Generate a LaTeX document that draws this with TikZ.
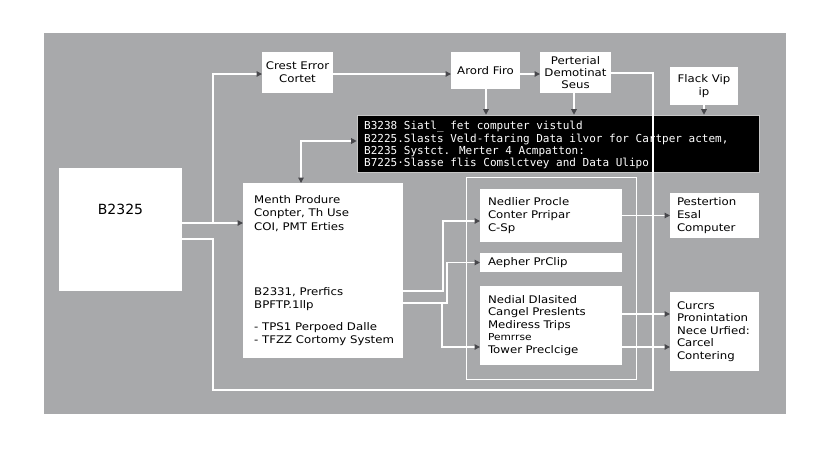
\documentclass[tikz,border=0pt]{standalone}
\usepackage{fontspec}
\setmainfont{DejaVu Sans}[FakeStretch=1.12]
\newfontfamily\plainfont{DejaVu Sans}
\newfontfamily\blackfont{DejaVu Sans Mono}
\usetikzlibrary{arrows.meta}
\definecolor{bggray}{RGB}{168,169,171}
\definecolor{tipgray}{RGB}{72,72,76}
\begin{document}
\begin{tikzpicture}[x=1pt,y=-1pt,
  wbox/.style={fill=white, inner sep=0pt, outer sep=0pt},
  cbox/.style={wbox, align=center, font=\fontsize{10.5}{13}\selectfont},
  lbox/.style={wbox, align=left, inner xsep=8pt, font=\fontsize{10.5}{12.7}\selectfont},
  txt/.style={inner sep=0pt, align=left, font=\fontsize{10.5}{13.5}\selectfont},
  conn/.style={draw=white, line width=1.2pt},
  tip/.tip={Triangle[length=5.5pt, width=5.5pt, color=tipgray]},
]
\useasboundingbox (0,0) rectangle (832,448);
\fill[white] (0,0) rectangle (832,448);
\fill[bggray] (44,33) rectangle (786,414);

% boxes
\node[wbox, minimum width=123pt, minimum height=123pt] (b2325) at (120.5,229.5) {};
\node[inner sep=0pt, font=\plainfont\fontsize{14}{16}\selectfont] (b2325t) at (120.5,209) {B2325};

\node[cbox, minimum width=71pt, minimum height=41pt] (crest) at (297.5,72.5) {Crest Error\\Cortet};
\node[cbox, minimum width=69pt, minimum height=37pt] (arord) at (485.5,70.5) {Arord Firo};
\node[cbox, minimum width=71pt, minimum height=41pt, font=\fontsize{10.5}{12.3}\selectfont] (perterial) at (575.5,72.5) {Perterial\\Demotinat\\Seus};
\node[cbox, minimum width=68pt, minimum height=38pt, font=\fontsize{10.5}{12.3}\selectfont] (flack) at (704,86) {Flack Vip\\ip};

\node[fill=black, draw=gray!45, line width=0.6pt, inner sep=0pt, minimum width=402pt, minimum height=57pt] (black) at (558,143.5) {};
\node[txt, anchor=north west, text=white, font=\blackfont\fontsize{11}{12.4}\selectfont] (blackt) at (364,121) {B3238 Siatl\_ fet computer vistuld\\B2225.Slasts Veld-ftaring Data ilvor for Cartper actem,\\B2235 Systct. Merter 4 Acmpatton:\\B7225·Slasse flis Comslctvey and Data Ulipo};

\node[wbox, minimum width=160pt, minimum height=175pt] (month) at (323,270.5) {};
\node[txt, anchor=north west] (montht) at (254,195) {Menth Produre\\Conpter, Th Use\\COI, PMT Erties};
\node[txt, anchor=north west] (monthb) at (254,287) {B2331, Prerfics\\BPFTP.1llp\\[8pt]- TPS1 Perpoed Dalle\\- TFZZ Cortomy System};

\node[draw=white, line width=1pt, inner sep=0pt, minimum width=170pt, minimum height=202pt] (frame) at (551,278) {};
\node[lbox, text width=126pt, minimum height=53pt] (nedlier) at (551,215.5) {Nedlier Procle\\Conter Prripar\\C-Sp};
\node[lbox, text width=126pt, minimum height=19pt] (aepher) at (551,262.5) {Aepher PrClip};
\node[lbox, text width=126pt, minimum height=79pt, font=\fontsize{10.5}{12.5}\selectfont] (nedial) at (551,325.5) {Nedial Dlasited\\Cangel Preslents\\Mediress Trips\\{\fontsize{9.5}{10}\selectfont Pemrrse}\\Tower Preclcige};

\node[lbox, inner xsep=7pt, text width=75pt, minimum height=45pt] (pest) at (714.5,215.5) {Pestertion\\Esal\\Computer};
\node[lbox, inner xsep=7pt, text width=75pt, minimum height=79pt, font=\fontsize{10.5}{12.5}\selectfont] (curcrs) at (714.5,331.5) {Curcrs\\Pronintation\\Nece Urfied:\\Carcel\\Contering};

% connectors
\draw[conn, -tip] (b2325.east |- 0,223) -- (month.west |- 0,223);
\draw[conn, -tip] (b2325.east |- 0,223) -| (213,74) -- (crest.west |- 0,74);
\draw[conn] (b2325.east |- 0,239) -| (213,390) -| (653,73) -- (perterial.east |- 0,73);
\draw[conn, -tip] (crest.east |- 0,74) -- (arord.west |- 0,74);
\draw[conn, -tip] (arord.east |- 0,74) -- (perterial.west |- 0,74);
\draw[conn, -tip] (arord.south -| 486,0) -- (black.north -| 486,0);
\draw[conn, -tip] (perterial.south -| 574,0) -- (black.north -| 574,0);
\draw[conn, -tip] (flack.south) -- (black.north -| flack.south);
\draw[conn, tip-tip] (black.west |- 0,141) -| (month.north -| 301,0);
\draw[conn, -tip] (month.east |- 0,291) -| (443,221) -- (nedlier.west |- 0,221);
\draw[conn, -tip] (month.east |- 0,303) -| (442,347) -- (nedial.west |- 0,347);
\draw[conn, -tip] (month.east |- 0,303) -| (447,262.5) -- (aepher.west);
\draw[conn, -tip] (nedlier.east) -- (pest.west);
\draw[conn, -tip] (nedial.east |- 0,314) -- (curcrs.west |- 0,314);
\draw[conn, -tip] (nedial.east |- 0,347) -- (curcrs.west |- 0,347);
\end{tikzpicture}
\end{document}
